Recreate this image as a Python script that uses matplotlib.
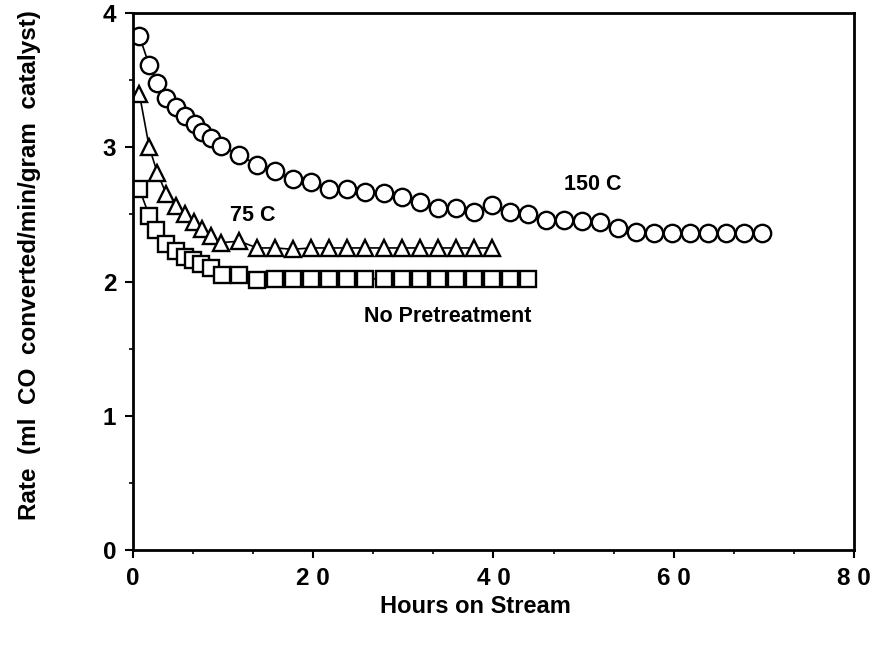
import matplotlib
matplotlib.use('Agg')
import matplotlib.pyplot as plt
from matplotlib.ticker import MultipleLocator

plt.rcParams['font.family'] = ['Liberation Sans', 'DejaVu Sans']
plt.rcParams['font.weight'] = 'bold'

# 150 C pretreatment
hours_150 = [0.7, 1.8, 2.7, 3.7, 4.8, 5.8, 6.9, 7.7, 8.7, 9.8,
             11.8, 13.8, 15.8, 17.7, 19.8, 21.8, 23.8, 25.8, 27.8, 29.8,
             31.8, 33.8, 35.8, 37.8, 39.8, 41.8, 43.8, 45.8, 47.8, 49.8,
             51.8, 53.8, 55.8, 57.8, 59.8, 61.8, 63.8, 65.8, 67.8, 69.8]
rate_150 = [3.83, 3.61, 3.48, 3.37, 3.30, 3.23, 3.17, 3.11, 3.07, 3.01,
            2.94, 2.87, 2.82, 2.76, 2.74, 2.69, 2.69, 2.67, 2.66, 2.63,
            2.59, 2.55, 2.55, 2.52, 2.57, 2.52, 2.50, 2.46, 2.46, 2.45,
            2.44, 2.40, 2.37, 2.36, 2.36, 2.36, 2.36, 2.36, 2.36, 2.36]

# 75 C pretreatment
hours_75 = [0.7, 1.8, 2.7, 3.7, 4.8, 5.8, 6.8, 7.7, 8.7, 9.8,
            11.8, 13.8, 15.8, 17.7, 19.8, 21.8, 23.8, 25.8, 27.8, 29.8,
            31.8, 33.8, 35.8, 37.8, 39.8]
rate_75 = [3.40, 3.00, 2.81, 2.65, 2.56, 2.50, 2.44, 2.39, 2.34, 2.29,
           2.30, 2.25, 2.25, 2.24, 2.25, 2.25, 2.25, 2.25, 2.25, 2.25,
           2.25, 2.25, 2.25, 2.25, 2.25]

# no pretreatment
hours_np = [0.7, 1.8, 2.6, 3.7, 4.8, 5.8, 6.7, 7.6, 8.6, 9.9,
            11.8, 13.8, 15.8, 17.7, 19.8, 21.8, 23.8, 25.8, 27.8, 29.8,
            31.8, 33.8, 35.8, 37.8, 39.8, 41.8, 43.8]
rate_np = [2.69, 2.49, 2.38, 2.28, 2.23, 2.18, 2.16, 2.13, 2.10, 2.05,
           2.05, 2.01, 2.02, 2.02, 2.02, 2.02, 2.02, 2.02, 2.02, 2.02,
           2.02, 2.02, 2.02, 2.02, 2.02, 2.02, 2.02]

xticks = [0, 20, 40, 60, 80]
xticklabels = ['0', '2 0', '4 0', '6 0', '8 0']
yticks = [0, 1, 2, 3, 4]

fig = plt.figure(figsize=(8.78, 6.49), dpi=100)
ax = fig.add_axes([0.1515, 0.1525, 0.821, 0.8275])

style = dict(color='black', linewidth=1.2, markerfacecolor='white',
             markeredgecolor='black', markeredgewidth=1.7)
ax.plot(hours_150, rate_150, marker='o', markersize=12.5, **style)
ax.plot(hours_75, rate_75, marker='^', markersize=11.5, **style)
ax.plot(hours_np, rate_np, marker='s', markersize=11.5, **style)

ax.text(51, 2.72, '150 C', fontsize=15.5, fontweight='bold', ha='center', va='center')
ax.text(13.3, 2.49, '75 C', fontsize=15.5, fontweight='bold', ha='center', va='center')
ax.text(34.9, 1.74, 'No Pretreatment', fontsize=15.5, fontweight='bold', ha='center', va='center')

ax.set_xlim(0, 80)
ax.set_ylim(0, 4)
ax.set_xticks(xticks)
ax.set_xticklabels(xticklabels)
ax.set_yticks(yticks)
ax.xaxis.set_minor_locator(MultipleLocator(20 / 3))
ax.yaxis.set_minor_locator(MultipleLocator(0.5))
ax.tick_params(axis='both', which='major', direction='out', length=6, width=1.5,
               labelsize=17.5, pad=6)
ax.tick_params(axis='both', which='minor', direction='out', length=3, width=1.2)
for lab in ax.get_xticklabels() + ax.get_yticklabels():
    lab.set_fontweight('bold')
for side in ['left', 'bottom', 'top', 'right']:
    ax.spines[side].set_linewidth(2)

fig.text(0.542, 0.065, 'Hours on Stream', fontsize=17, fontweight='bold', ha='center', va='center')
fig.text(0.034, 0.592, 'Rate  (ml  CO  converted/min/gram  catalyst)', fontsize=17.5,
         fontweight='bold', rotation=90, ha='center', va='center')

fig.savefig('out.png', dpi=100)
